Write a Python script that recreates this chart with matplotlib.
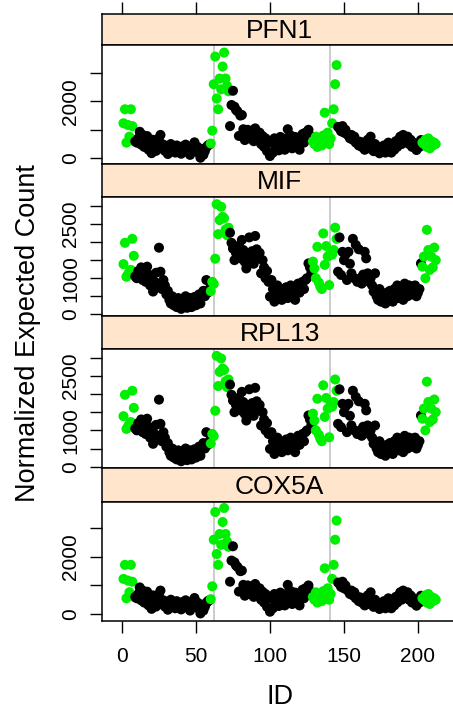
import matplotlib
matplotlib.use('Agg')
import matplotlib.pyplot as plt
import numpy as np

plt.rcParams['font.family'] = ['Liberation Sans', 'DejaVu Sans']

# ---------------- data ----------------
ids = list(range(1, 213))

pfn1 = [
    1230, 1720, 550, 1170, 760, 1720, 1130, 600, 600, 550,      # 1-10
    700, 930, 480, 820, 400, 620, 780, 300, 520, 180,           # 11-20
    650, 420, 260, 550, 700, 820, 350, 480, 260, 400,           # 21-30
    150, 350, 500, 280, 420, 200, 450, 300, 380, 160,           # 31-40
    420, 300, 480, 230, 350, 120, 420, 300, 560, 250,           # 41-50
    400, 180, 20, 330, 120, 250, 380, 450, 480, 520,            # 51-60
    970, 2600, 3570, 2100, 1720, 2800, 2420, 3220, 3710, 2800,  # 61-70
    2540, 2350, 1130, 1870, 2370, 1810, 1700, 1650, 785, 1500,  # 71-80
    1520, 1020, 640, 900, 1000, 700, 850, 950, 600, 1050,       # 81-90
    800, 650, 900, 500, 780, 400, 700, 250, 600, 80,            # 91-100
    550, 200, 700, 350, 600, 280, 750, 450, 650, 300,           # 101-110
    700, 1020, 500, 800, 350, 600, 750, 400, 650, 300,          # 111-120
    700, 850, 550, 900, 700, 1000, 800, 750, 600, 500,          # 121-130
    760, 400, 650, 550, 450, 800, 1600, 700, 900, 500,          # 131-140
    700, 1230, 1720, 2600, 3270, 1100, 1050, 950, 1130, 900,    # 141-150
    1000, 850, 800, 700, 820, 650, 760, 550, 600, 450,          # 151-160
    580, 400, 500, 300, 450, 650, 350, 760, 400, 250,           # 161-170
    500, 300, 400, 175, 350, 250, 450, 200, 300, 550,           # 171-180
    350, 200, 450, 300, 600, 400, 650, 760, 500, 820,           # 181-190
    600, 700, 760, 500, 650, 400, 550, 450, 290, 500,           # 191-200
    400, 640, 550, 500, 650, 400, 700, 350, 600, 450,           # 201-210
    550, 500,                                                   # 211-212
]

mif = [
    1390, 1980, 1040, 1100, 1180, 1230, 2090, 1620, 1050, 1000,  # 1-10
    1200, 1090, 1300, 950, 1250, 900, 1320, 1100, 800, 1000,     # 11-20
    630, 900, 1150, 850, 1845, 1180, 700, 950, 800, 550,         # 21-30
    650, 400, 300, 500, 250, 350, 200, 450, 300, 150,            # 31-40
    400, 250, 500, 180, 350, 450, 200, 300, 480, 250,            # 41-50
    400, 550, 300, 580, 650, 500, 950, 600, 700, 640,            # 51-60
    900, 840, 1540, 3050, 2220, 2610, 2980, 2700, 2660, 2350,    # 61-70
    2190, 2400, 2260, 1980, 1820, 1500, 1700, 1650, 1900, 1550,  # 71-80
    2060, 1780, 1450, 1270, 1650, 2130, 1600, 1750, 1400, 2170,  # 81-90
    1800, 1550, 1700, 1135, 1500, 1300, 1000, 1200, 900, 490,    # 91-100
    950, 700, 350, 600, 800, 500, 700, 400, 650, 550,            # 101-110
    750, 450, 600, 800, 500, 700, 400, 650, 850, 600,            # 111-120
    750, 900, 700, 950, 1000, 1410, 1300, 1150, 1460, 1270,      # 121-130
    1000, 1870, 880, 770, 700, 2240, 1370, 1890, 1600, 810,      # 131-140
    1750, 1650, 1780, 2400, 2090, 1180, 2130, 1090, 1730, 1500,  # 141-150
    1650, 950, 1730, 1400, 1135, 2090, 1000, 1920, 900, 1800,    # 151-160
    1000, 850, 1100, 1730, 1550, 1135, 900, 1000, 800, 630,      # 161-170
    1135, 500, 400, 700, 350, 550, 450, 300, 600, 400,           # 171-180
    650, 500, 350, 700, 550, 800, 450, 750, 600, 400,            # 181-190
    850, 650, 500, 800, 700, 550, 650, 800, 500, 600,            # 191-200
    700, 1410, 1320, 1600, 1000, 2340, 1780, 1230, 1600, 1300,   # 201-210
    1850, 1500,                                                  # 211-212
]

rpl13 = list(mif)
cox5a = list(pfn1)

genes = ['PFN1', 'MIF', 'RPL13', 'COX5A']
gene_values = [pfn1, mif, rpl13, cox5a]
green_ranges = [(1, 8), (60, 72), (129, 145), (203, 212)]
phase_lines = [62.5, 140.5]
x_ticks = [0, 50, 100, 150, 200]
y_ticks_big = [0, 1000, 2000, 3000]
y_labels_big = ['0', '', '2000', '']
y_ticks_small = [0, 500, 1000, 1500, 2000, 2500, 3000]
y_labels_small = ['0', '', '1000', '', '', '2500', '']

# ---------------- layout ----------------
W, H = 453, 712
fig = plt.figure(figsize=(W / 100, H / 100), dpi=100)


def box(l, t, r, b):
    return [l / W, 1 - b / H, (r - l) / W, (b - t) / H]


L, R = 101.6, 457.6
strips = [(14, 45), (164, 197), (316, 349), (468, 502)]
panels = [(45, 164), (197, 316), (349, 468), (502, 621)]
ylims = [(-200, 3975), (-47, 3249), (-36, 3239), (-245, 3920)]
xlim = (-13.77, 226.77)

green = '#00EE00'
lw = 1.1
tick_kw = dict(direction='out', length=8.5, width=1.0, labelsize=15, pad=7,
               color='black')

is_green = [any(a <= i <= b for a, b in green_ranges) for i in ids]
colors = [green if g else 'black' for g in is_green]

for k, (gene, vals) in enumerate(zip(genes, gene_values)):
    # strip
    st, sb = strips[k]
    sax = fig.add_axes(box(L, st, R, sb))
    sax.set_facecolor('#FFE5CC')
    sax.set_xlim(*xlim)
    sax.set_ylim(0, 1)
    sax.set_yticks([])
    for sp in sax.spines.values():
        sp.set_linewidth(lw)
    if k == 0:
        sax.xaxis.tick_top()
        sax.set_xticks(x_ticks)
        sax.tick_params(axis='x', top=True, bottom=False, labeltop=False,
                        labelbottom=False, **tick_kw)
    else:
        sax.set_xticks([])
    sax.text(0.5 * (xlim[0] + xlim[1]), 0.45, gene, fontsize=19,
             ha='center', va='center')

    # panel
    pt, pb = panels[k]
    ax = fig.add_axes(box(L, pt, R, pb))
    ax.set_xlim(*xlim)
    ax.set_ylim(*ylims[k])
    for xv in phase_lines:
        ax.axvline(xv, color='#BEBEBE', lw=1.1, zorder=1)
    ax.scatter(ids, vals, c=colors, s=52, linewidths=0, zorder=3)
    for sp in ax.spines.values():
        sp.set_linewidth(lw)
    if gene in ('PFN1', 'COX5A'):
        ax.set_yticks(y_ticks_big)
        ax.set_yticklabels(y_labels_big, rotation=90, va='center')
    else:
        ax.set_yticks(y_ticks_small)
        ax.set_yticklabels(y_labels_small, rotation=90, va='center')
    ax.tick_params(axis='y', left=True, right=False, **tick_kw)
    if k == 3:
        ax.set_xticks(x_ticks)
        ax.set_xticklabels([str(v) for v in x_ticks])
        ax.tick_params(axis='x', bottom=True, top=False, **tick_kw)
        ax.tick_params(axis='x', pad=10)
    else:
        ax.set_xticks([])

fig.text(28 / W, 1 - 333 / H, 'Normalized Expected Count', rotation=90,
         fontsize=19.5, ha='center', va='center')
fig.text(279.6 / W, 1 - 697 / H, 'ID', fontsize=19.5, ha='center', va='center')

fig.savefig('out.png', dpi=100)
